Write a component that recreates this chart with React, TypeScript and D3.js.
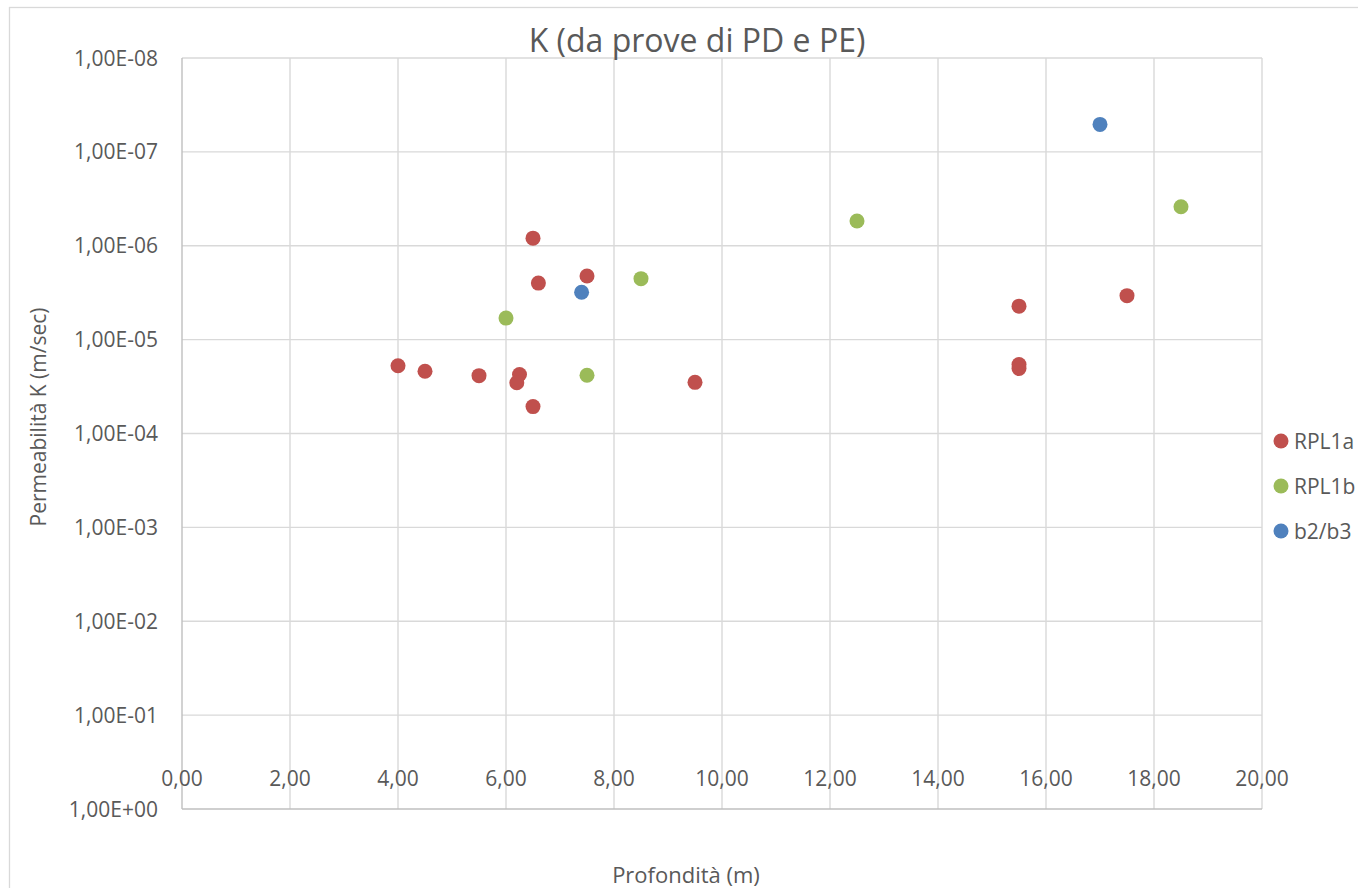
import React, { useEffect, useRef } from 'react';
import * as d3 from 'd3';

// series: [profondità (m), permeabilità K (m/sec)]
const rpl1aDepth = [6.5, 6.6, 7.5, 4.0, 4.5, 5.5, 6.25, 6.2, 6.5, 9.5, 15.5, 15.5, 15.5, 17.5];
const rpl1aK = [8.3e-7, 2.5e-6, 2.1e-6, 1.9e-5, 2.17e-5, 2.42e-5, 2.35e-5, 2.88e-5, 5.17e-5, 2.85e-5, 4.4e-6, 1.84e-5, 2.03e-5, 3.4e-6];

const rpl1bDepth = [6.0, 8.5, 7.5, 12.5, 18.5];
const rpl1bK = [5.9e-6, 2.24e-6, 2.4e-5, 5.44e-7, 3.84e-7];

const b2b3Depth = [7.4, 17.0];
const b2b3K = [3.13e-6, 5.1e-8];

const seriesNames = ['RPL1a', 'RPL1b', 'b2/b3'];
const seriesColors = ['#C0504D', '#9BBB59', '#4F81BD'];

const xTicks = [0, 2, 4, 6, 8, 10, 12, 14, 16, 18, 20];
const yTicks = [1e-8, 1e-7, 1e-6, 1e-5, 1e-4, 1e-3, 1e-2, 1e-1, 1];

const FONT = "'Open Sans', sans-serif";
const TEXT = '#595959';

// "1,00E-08" in the Excel way
function sci(v: number) {
  const e = Math.round(Math.log10(v));
  const sign = e < 0 ? '-' : '+';
  return '1,00E' + sign + String(Math.abs(e)).padStart(2, '0');
}

export default function App() {
  const ref = useRef<SVGSVGElement>(null);

  useEffect(() => {
    const svg = d3.select(ref.current);
    svg.selectAll('*').remove();

    const left = 182, right = 1262, top = 58, bottom = 809;
    const x = d3.scaleLinear().domain([0, 20]).range([left, right]);
    // reversed log axis: small K at the top
    const y = d3.scaleLog().domain([1e-8, 1]).range([top, bottom]);

    svg.append('rect')
      .attr('x', 9.5).attr('y', 7.5)
      .attr('width', 1400).attr('height', 900)
      .attr('fill', '#fff').attr('stroke', '#d9d9d9').attr('stroke-width', 1.3);

    // gridlines
    svg.append('g').selectAll('line').data(xTicks.slice(1)).join('line')
      .attr('x1', d => x(d)).attr('x2', d => x(d))
      .attr('y1', top).attr('y2', bottom)
      .attr('stroke', '#d9d9d9').attr('stroke-width', 1.4);
    svg.append('g').selectAll('line').data(yTicks.slice(0, -1)).join('line')
      .attr('x1', left).attr('x2', right)
      .attr('y1', d => y(d)).attr('y2', d => y(d))
      .attr('stroke', '#d9d9d9').attr('stroke-width', 1.4);

    // axis lines
    svg.append('line').attr('x1', left).attr('x2', left).attr('y1', top).attr('y2', bottom)
      .attr('stroke', '#bfbfbf').attr('stroke-width', 1.4);
    svg.append('line').attr('x1', left).attr('x2', right).attr('y1', bottom).attr('y2', bottom)
      .attr('stroke', '#bfbfbf').attr('stroke-width', 1.4);

    // tick labels
    svg.append('g').selectAll('text').data(yTicks).join('text')
      .attr('x', 158).attr('y', d => y(d) + 7.5)
      .attr('text-anchor', 'end')
      .attr('font-family', FONT).attr('font-size', 21).attr('fill', TEXT)
      .text(d => sci(d));
    svg.append('g').selectAll('text').data(xTicks).join('text')
      .attr('x', d => x(d)).attr('y', 785.5)
      .attr('text-anchor', 'middle')
      .attr('font-family', FONT).attr('font-size', 21).attr('fill', TEXT)
      .text(d => d3.format('.2f')(d).replace('.', ','));

    // titles
    svg.append('text').attr('x', 697).attr('y', 52).attr('text-anchor', 'middle')
      .attr('font-family', FONT).attr('font-size', 32).attr('fill', TEXT)
      .text('K (da prove di PD e PE)');
    svg.append('text').attr('x', 686).attr('y', 883).attr('text-anchor', 'middle')
      .attr('font-family', FONT).attr('font-size', 22).attr('fill', TEXT)
      .text('Profondità (m)');
    svg.append('text').attr('transform', 'translate(46,417) rotate(-90)')
      .attr('text-anchor', 'middle')
      .attr('font-family', FONT).attr('font-size', 21).attr('fill', TEXT)
      .text('Permeabilità K (m/sec)');

    // points
    const series = [
      { depth: rpl1aDepth, k: rpl1aK },
      { depth: rpl1bDepth, k: rpl1bK },
      { depth: b2b3Depth, k: b2b3K },
    ];
    series.forEach((s, i) => {
      svg.append('g').selectAll('circle').data(s.depth).join('circle')
        .attr('cx', d => x(d))
        .attr('cy', (d, j) => y(s.k[j]))
        .attr('r', 7.5)
        .attr('fill', seriesColors[i]);
    });

    // legend
    const lg = svg.append('g').selectAll('g').data(seriesNames).join('g')
      .attr('transform', (d, i) => `translate(1281,${441 + i * 45})`);
    lg.append('circle').attr('r', 7.5).attr('fill', (d, i) => seriesColors[i]);
    lg.append('text').attr('x', 13).attr('y', 7.5)
      .attr('font-family', FONT).attr('font-size', 21).attr('fill', TEXT)
      .text(d => d);
  }, []);

  return (
    <div style={{ position: 'absolute', left: 0, top: 0 }}>
      <svg ref={ref} width={1358} height={888} style={{ display: 'block' }} />
    </div>
  );
}
